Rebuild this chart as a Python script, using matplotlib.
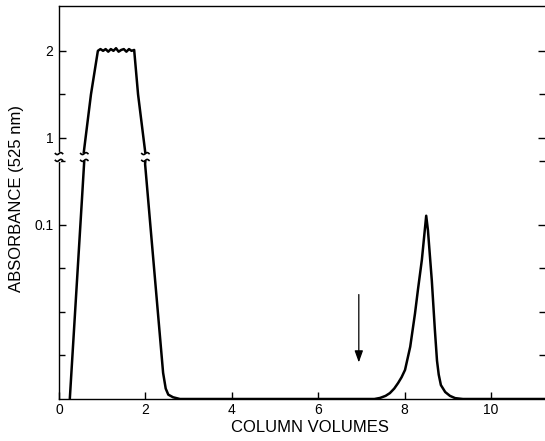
import numpy as np
import matplotlib
matplotlib.use('Agg')
import matplotlib.pyplot as plt
import matplotlib.transforms as mtransforms

plt.rcParams['font.family'] = ['Liberation Sans', 'DejaVu Sans']

# broken absorbance axis: absorbance value -> tick position
scale_abs = [0, 0.1, 0.2, 0.5, 1, 2, 3]
scale_pos = [0, 4, 4.602, 5.398, 6, 8, 10]

# where the axis and the curve are broken
break_lo, break_hi = 0.57, 0.70
break_x = [0.0, 0.585, 2.0]

# rising edge of first peak, below the axis break
rise_x = [0.25, 0.495, 0.532, 0.585]
rise_y = [0.0, 0.1, 0.2, 0.57]

# top of first peak (above the break), plateau at 2
top_x = [0.57, 0.74, 0.90, 0.96, 1.02, 1.08, 1.14, 1.20, 1.26, 1.32, 1.38,
         1.44, 1.50, 1.56, 1.62, 1.68, 1.74, 1.83, 2.0]
top_y = [0.70, 1.5, 2.0, 2.02, 2.0, 2.02, 1.99, 2.02, 2.0, 2.03, 1.99,
         2.01, 2.02, 1.99, 2.02, 2.0, 2.01, 1.5, 0.70]

# falling edge of first peak, baseline and second peak
tail_x = [2.0, 1.993, 2.062, 2.114, 2.41, 2.47, 2.53, 2.64, 2.80, 7.30,
          7.43, 7.56, 7.66, 7.76, 7.85, 7.93, 8.01, 8.13, 8.24, 8.31, 8.40,
          8.50, 8.54, 8.63, 8.70, 8.75, 8.79, 8.84, 8.94, 9.05, 9.17, 9.35, 11.4]
tail_y = [0.57, 0.5, 0.2, 0.1, 0.015, 0.006, 0.0025, 0.001, 0.0, 0.0,
          0.0006, 0.0018, 0.0034, 0.006, 0.0092, 0.0125, 0.0167, 0.030, 0.049,
          0.063, 0.080,
          0.135, 0.097, 0.068, 0.040, 0.022, 0.014, 0.008, 0.004, 0.0018,
          0.0005, 0.0, 0.0]

# arrow marking a sample application
arrow_x = 6.94
arrow_top, arrow_tip = 0.06, 0.021

x_ticks = [0, 2, 4, 6, 8, 10]
y_major = [0.1, 1, 2]
y_labels = ['0.1', '1', '2']
y_minor = [0.025, 0.05, 0.075, 0.55, 1.5]


def to_pos(a):
    return np.interp(a, scale_abs, scale_pos)


def to_abs(p):
    return np.interp(p, scale_pos, scale_abs)


fig = plt.figure(figsize=(5.45, 4.41), dpi=100)
ax = fig.add_axes([59 / 545, 42 / 441, 486 / 545, 393 / 441])
ax.set_yscale('function', functions=(to_pos, to_abs))
ax.set_xlim(0, 11.25)
ax.set_ylim(0, to_abs(9.03))

kw = dict(color='black', lw=1.8, solid_joinstyle='round', solid_capstyle='butt')
ax.plot(rise_x, rise_y, **kw)
ax.plot(top_x, top_y, **kw)
ax.plot(tail_x, tail_y, **kw)

ax.annotate('', xy=(arrow_x, arrow_tip), xytext=(arrow_x, arrow_top),
            arrowprops=dict(arrowstyle='-|>,head_length=0.5,head_width=0.18',
                            color='black', lw=0.9,
                            mutation_scale=14, shrinkA=0, shrinkB=0))

# break marks: small tildes on the spine and on the curve
t = np.linspace(-2.6, 2.6, 30)
wave = 0.7 * np.sin(t / 2.6 * np.pi)
for bx in break_x:
    if bx == 0.0:
        ax.plot([bx, bx], [break_lo, break_hi], color='white', lw=3,
                zorder=3, clip_on=False)
    for yy in (break_lo, break_hi):
        tr = mtransforms.Affine2D().scale(fig.dpi / 72) + \
            mtransforms.ScaledTranslation(bx, yy, ax.transData)
        ax.plot(t, wave, color='black', lw=1.2, transform=tr,
                zorder=4, clip_on=False)

ax.spines['right'].set_visible(False)
for s in ('left', 'bottom', 'top'):
    ax.spines[s].set_linewidth(1.0)

ax.set_xticks(x_ticks)
ax.set_xticklabels([str(v) for v in x_ticks])
ax.set_yticks(y_major)
ax.set_yticklabels(y_labels)
ax.set_yticks(y_minor, minor=True)
ax.tick_params(axis='x', direction='in', length=5, width=1, labelsize=10, pad=3)
ax.tick_params(axis='y', which='both', direction='in', length=5, width=1,
               labelsize=10, pad=4, right=True)
ax.tick_params(axis='y', which='minor', length=4)

ax.set_xlabel('COLUMN VOLUMES', fontsize=12)
ax.xaxis.set_label_coords(0.516, -0.053)
ax.set_ylabel('ABSORBANCE (525 nm)', fontsize=12)
ax.yaxis.set_label_coords(-0.072, 0.51)

fig.savefig('out.png', dpi=100)
